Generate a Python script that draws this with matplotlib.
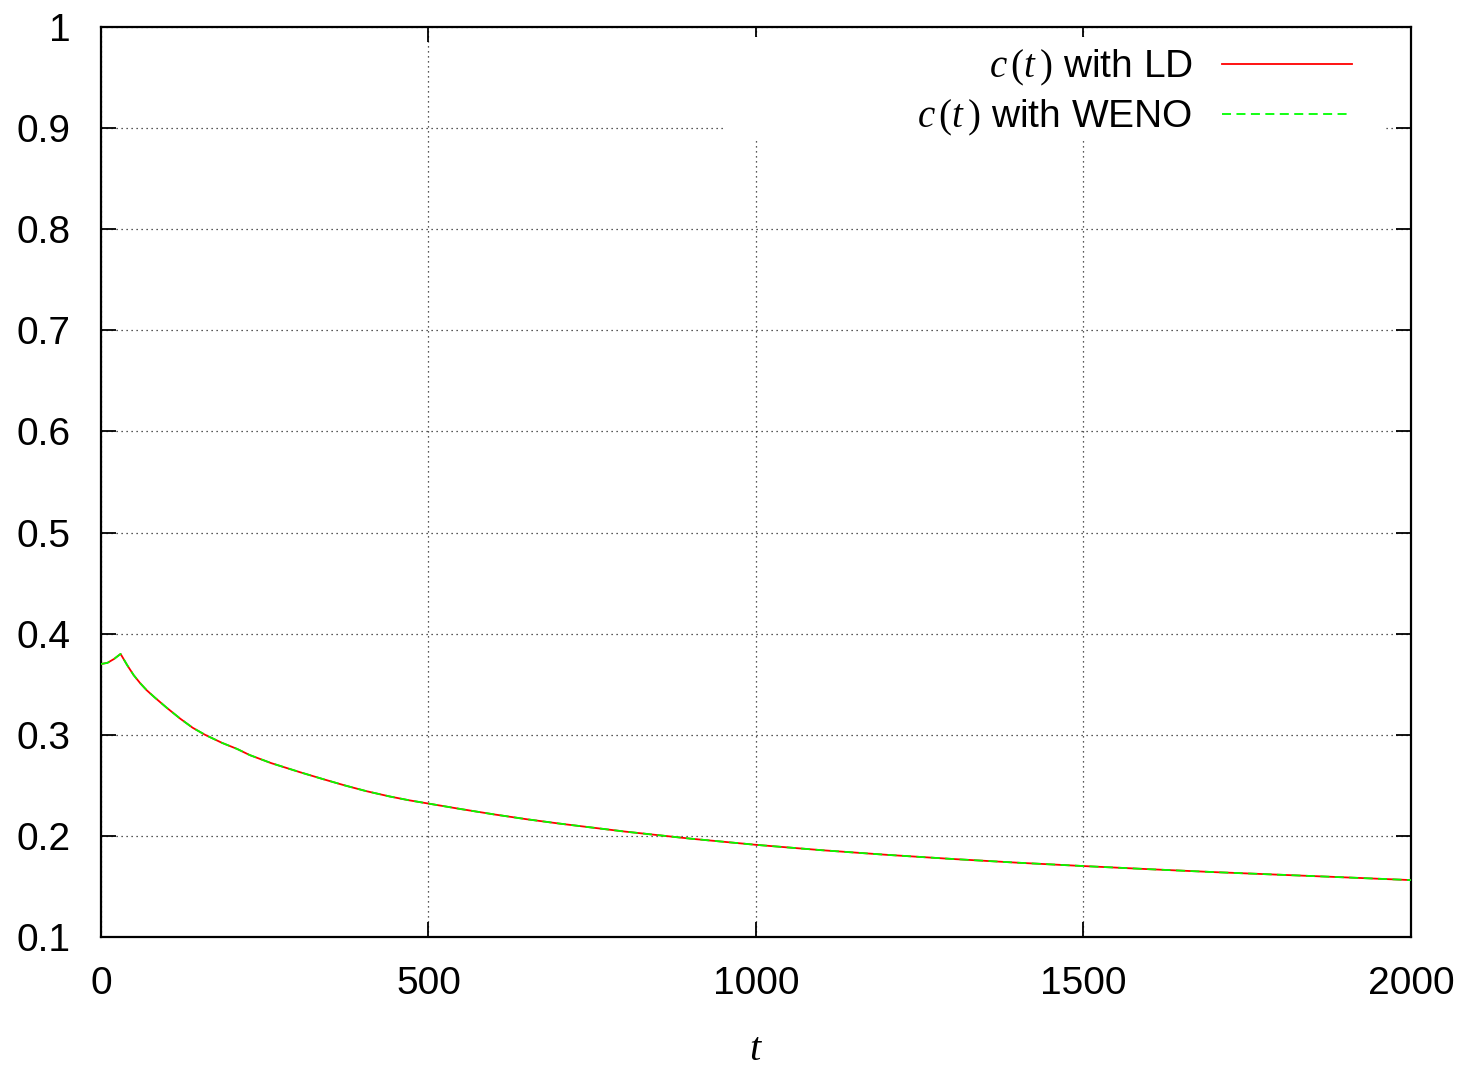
import matplotlib
matplotlib.use("Agg")
from matplotlib import pyplot as plt
from matplotlib.patches import Rectangle

# data
t = [0, 10, 20, 30, 40, 50, 60, 70, 82, 100, 121, 140, 159, 185, 208, 227, 260,
     304, 340, 372, 405, 441, 470, 500, 550, 600, 650, 700, 800, 900, 1000, 1100,
     1200, 1300, 1400, 1500, 1600, 1700, 1800, 1900, 2000]
c = [0.370, 0.3712, 0.375, 0.380, 0.369, 0.359, 0.351, 0.344, 0.337, 0.327, 0.316,
     0.307, 0.300, 0.292, 0.286, 0.280, 0.272, 0.263, 0.256, 0.2500, 0.2443, 0.2390,
     0.2353, 0.232, 0.2265, 0.2213, 0.2165, 0.2122, 0.2043, 0.1973, 0.1912, 0.1859,
     0.1813, 0.1772, 0.1735, 0.1702, 0.1671, 0.1642, 0.1616, 0.1590, 0.1563]
c_ld = c
c_weno = c

xticks = [0, 500, 1000, 1500, 2000]
xlabels = ["0", "500", "1000", "1500", "2000"]
yticks = [0.1, 0.2, 0.3, 0.4, 0.5, 0.6, 0.7, 0.8, 0.9, 1.0]
ylabels = ["0.1", "0.2", "0.3", "0.4", "0.5", "0.6", "0.7", "0.8", "0.9", "1"]

plt.rcParams['font.family'] = ['Liberation Sans', 'DejaVu Sans']
plt.rcParams['mathtext.fontset'] = 'custom'
plt.rcParams['mathtext.rm'] = 'Liberation Serif'
plt.rcParams['mathtext.it'] = 'Liberation Serif:italic'

fig = plt.figure(figsize=(14.67, 10.72), dpi=100)
ax = fig.add_axes([0.0688, 0.1259, 0.8930, 0.8489])

ax.plot(t, c_ld, color='#ff0000', lw=1.3, label=r'$c\,(t\,)$ with LD', zorder=3)
ax.plot(t, c_weno, color='#00ff00', lw=1.3, dashes=(5, 3), label=r'$c\,(t\,)$ with WENO', zorder=4)

ax.set_xlim(0, 2000)
ax.set_ylim(0.1, 1.0)
ax.set_xticks(xticks)
ax.set_xticklabels(xlabels)
ax.set_yticks(yticks)
ax.set_yticklabels(ylabels)
ax.tick_params(direction='in', length=11, width=1.3, labelsize=28,
               top=True, right=True, color='black')
ax.tick_params(axis='x', pad=21)
ax.tick_params(axis='y', pad=22)
for s in ax.spines.values():
    s.set_linewidth(1.6)

ax.grid(True, color='#222222', linestyle=(0, (1, 3)), lw=0.9)
ax.set_axisbelow(True)

# white key background
ax.add_patch(Rectangle((0.476, 0.876), 0.504, 0.113, transform=ax.transAxes,
                       facecolor='white', edgecolor='none', zorder=1.8))

ax.set_xlabel(r'$t$', fontsize=29, labelpad=20)

leg = ax.legend(loc='upper right', bbox_to_anchor=(0.955, 0.977), frameon=False,
                markerfirst=False, fontsize=28, handlelength=3.35,
                handletextpad=0.75, labelspacing=0.25, borderpad=0,
                borderaxespad=0)
leg.set_zorder(5)

plt.savefig('out.png', dpi=100)
